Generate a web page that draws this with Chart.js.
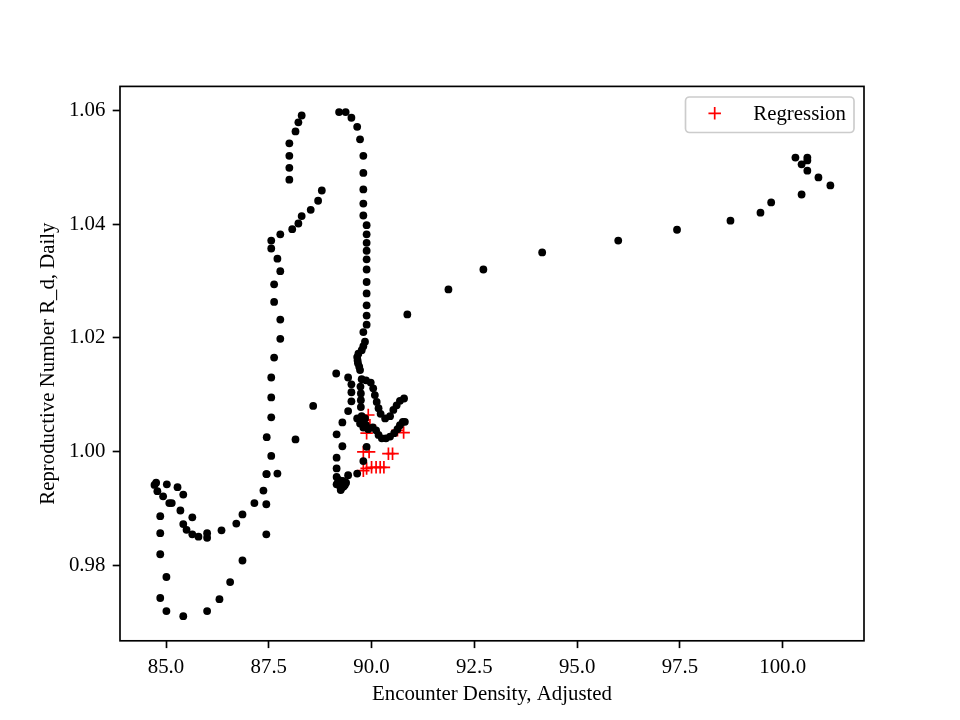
<!DOCTYPE html>
<html>
<head>
<meta charset="utf-8">
<script src="https://cdn.jsdelivr.net/npm/chart.js@4.4.1/dist/chart.umd.min.js"></script>
<style>
html,body{margin:0;padding:0;background:#ffffff;}
#wrap{width:960px;height:720px;}
</style>
</head>
<body>
<div id="wrap"><canvas id="c" width="960" height="720"></canvas></div>
<script>
// ---------------- data ----------------
const xTicks = [85.0, 87.5, 90.0, 92.5, 95.0, 97.5, 100.0];
const yTicks = [0.98, 1.00, 1.02, 1.04, 1.06];

const upperLeftArm = [
  [88.30,1.0591],[88.22,1.0579],[88.15,1.0563],[88.00,1.0542],[88.00,1.0520],[88.00,1.0499],[88.00,1.0478]
];
const descendingArm = [
  [88.79,1.0459],[88.70,1.0441],[88.52,1.0425],[88.30,1.0414],[88.22,1.0401],[88.07,1.0391],[87.78,1.0382],
  [87.56,1.0371],[87.56,1.0357],[87.71,1.0339],[87.78,1.0317],[87.63,1.0294],[87.63,1.0263],[87.78,1.0232],
  [87.78,1.0198],[87.63,1.0165],[87.56,1.0130],[87.56,1.0095],[87.56,1.0060],[87.45,1.0025],[87.56,0.9992],
  [87.45,0.9960],[87.71,0.9961],[88.15,1.0021],[88.58,1.0080]
];
const lowerLoop = [
  [84.72,0.9941],[84.76,0.9945],[84.79,0.9930],[84.93,0.9921],[85.02,0.9942],[85.28,0.9937],[85.42,0.9924],
  [85.08,0.9909],[85.14,0.9909],[85.35,0.9896],[85.64,0.9884],[85.42,0.9872],[85.50,0.9862],[85.64,0.9854],
  [85.79,0.9850],[86.00,0.9856],[86.00,0.9848],[86.35,0.9861],[86.71,0.9873],[86.86,0.9889],[87.15,0.9909],
  [87.37,0.9931],[87.44,0.9960],[87.44,0.9907],[87.44,0.9854]
];
const lowerDip = [
  [84.86,0.9886],[84.86,0.9856],[84.86,0.9819],[85.01,0.9779],[84.86,0.9742],[85.01,0.9719],[85.42,0.9710],
  [86.00,0.9719],[86.30,0.9740],[86.56,0.9770],[86.86,0.9808]
];
const risingColumn = [
  [89.21,1.0597],[89.37,1.0597],[89.51,1.0587],[89.65,1.0571],[89.72,1.0549],[89.80,1.0520],[89.80,1.0490],
  [89.80,1.0461],[89.80,1.0436],[89.80,1.0415],[89.88,1.0398],[89.88,1.0382],[89.88,1.0367],[89.88,1.0353],
  [89.88,1.0338],[89.88,1.0320],[89.88,1.0298],[89.88,1.0278],[89.88,1.0257],[89.88,1.0239],[89.88,1.0223],
  [89.80,1.0210],[89.84,1.0193],[89.80,1.0185],[89.76,1.0178],[89.68,1.0172],[89.65,1.0166],[89.66,1.0160],
  [89.67,1.0155],[89.70,1.0149],[89.72,1.0143]
];
const clusterLeft = [
  [89.14,1.0137],[89.43,1.0130],[89.51,1.0118],[89.51,1.0104],[89.51,1.0088],[89.43,1.0071],[89.29,1.0051],
  [89.15,1.0030],[89.29,1.0009],[89.15,0.9989],[89.15,0.9970],[89.15,0.9955],[89.43,0.9958],[89.65,0.9961],
  [89.18,0.9945],[89.22,0.9940],[89.28,0.9937],[89.32,0.9938],[89.20,0.9950],[89.38,0.9945],[89.26,0.9935],
  [89.15,0.9942],[89.35,0.9941],[89.25,0.9932],[89.30,0.9948],[89.80,0.9983],[89.88,1.0008]
];
const clusterBands = [
  [89.76,1.0127],[89.865,1.0125],[89.98,1.0121],[90.04,1.0111],[90.08,1.0099],[90.125,1.0087],[90.17,1.0076],
  [90.22,1.0066],[90.33,1.0058],[90.45,1.0062],[90.53,1.0073],[90.61,1.0081],[90.69,1.0089],[90.79,1.0093],
  [89.73,1.0114],[89.74,1.0102],[89.74,1.0090],[89.74,1.0078],[89.76,1.0062],[89.80,1.0052],[89.865,1.0046],
  [89.92,1.0039],[90.03,1.0042],[90.11,1.0037],[90.17,1.0029],[90.25,1.0023],[90.35,1.0023],[90.45,1.0026],
  [90.55,1.0032],[90.63,1.0039],[90.69,1.0046],[90.76,1.0052],[90.81,1.0052],
  [89.65,1.0058],[89.72,1.0049],[89.84,1.0058],[89.80,1.0042]
];
const rightArm = [
  [90.87,1.0241],[91.87,1.0285],[92.72,1.0320],[94.15,1.0350],[96.00,1.0371],[97.43,1.0390],[98.73,1.0406],
  [99.46,1.0420],[99.72,1.0438],[100.46,1.0452],[100.31,1.0517],[100.60,1.0517],[100.60,1.0512],[100.46,1.0505],
  [100.60,1.0494],[100.87,1.0482],[101.16,1.0468]
];

const regressionX = [89.80, 89.94, 90.41, 90.51, 90.78, 90.63, 89.92, 89.96, 89.88, 89.80, 89.88, 90.00, 90.11, 90.21, 90.30];
const regressionY = [0.9999, 0.9999, 0.9996, 0.9996, 1.0033, 1.0037, 1.0064, 1.0046, 1.0032, 0.9966, 0.9970, 0.9972, 0.9972, 0.9972, 0.9972];

const xAxisTitle = 'Encounter Density, Adjusted';
const yAxisTitle = 'Reproductive Number R_d, Daily';
const regressionLabel = 'Regression';

// ---------------- chart ----------------
const FONT = '"Liberation Serif", "Times New Roman", Times, serif';
const FS = 20.83;
Chart.defaults.font.family = FONT;
Chart.defaults.font.size = FS;
Chart.defaults.color = '#000000';

const observed = [].concat(upperLeftArm, descendingArm, lowerLoop, lowerDip, risingColumn, clusterLeft, clusterBands, rightArm)
  .map(p => ({x: p[0], y: p[1]}));
const regression = regressionX.map((x, i) => ({x: x, y: regressionY[i]}));

const framePlugin = {
  id: 'frame',
  afterDraw(chart) {
    const {ctx, chartArea: a} = chart;
    ctx.save();
    ctx.strokeStyle = '#000000';
    ctx.lineWidth = 1.67;
    ctx.strokeRect(a.left, a.top, a.right - a.left, a.bottom - a.top);
    ctx.restore();
  }
};

const legendPlugin = {
  id: 'boxLegend',
  afterDraw(chart) {
    const ctx = chart.ctx;
    const ds = chart.data.datasets[1];
    const x0 = 685.5, y0 = 97, w = 168.5, h = 35.5, r = 4;
    ctx.save();
    ctx.beginPath();
    ctx.roundRect(x0, y0, w, h, r);
    ctx.fillStyle = 'rgba(255,255,255,0.8)';
    ctx.fill();
    ctx.strokeStyle = '#cccccc';
    ctx.lineWidth = 1.67;
    ctx.stroke();
    const cx = 714.7, cy = 113.3, rr = ds.pointRadius;
    ctx.beginPath();
    ctx.moveTo(cx - rr, cy); ctx.lineTo(cx + rr, cy);
    ctx.moveTo(cx, cy - rr); ctx.lineTo(cx, cy + rr);
    ctx.strokeStyle = ds.pointBorderColor;
    ctx.lineWidth = ds.pointBorderWidth;
    ctx.stroke();
    ctx.fillStyle = '#000000';
    ctx.font = FS + 'px ' + FONT;
    ctx.textBaseline = 'alphabetic';
    ctx.textAlign = 'left';
    ctx.fillText(ds.label, 753.3, 120.3);
    ctx.restore();
  }
};

new Chart(document.getElementById('c').getContext('2d'), {
  type: 'scatter',
  data: {
    datasets: [
      {
        label: 'Observed',
        data: observed,
        pointRadius: 3.9,
        pointHoverRadius: 3.9,
        pointBackgroundColor: '#000000',
        pointBorderColor: '#000000',
        pointBorderWidth: 0
      },
      {
        label: regressionLabel,
        data: regression,
        pointStyle: 'cross',
        pointRadius: 6.25,
        pointHoverRadius: 6.25,
        pointBorderColor: '#ff0000',
        pointBackgroundColor: '#ff0000',
        pointBorderWidth: 1.7
      }
    ]
  },
  options: {
    responsive: false,
    animation: false,
    devicePixelRatio: 1,
    events: [],
    layout: {padding: {left: 0, right: 96, top: 86.4, bottom: 0}},
    plugins: {legend: {display: false}, tooltip: {enabled: false}},
    scales: {
      x: {
        type: 'linear',
        bounds: 'data',
        min: 83.881,
        max: 101.978,
        afterBuildTicks: s => { s.ticks = xTicks.map(v => ({value: v})); },
        afterFit: s => { s.height = 79.2; },
        ticks: {
          callback: v => Number(v).toFixed(1),
          color: '#000000',
          font: {family: FONT, size: FS},
          padding: 7,
          maxRotation: 0,
          autoSkip: false
        },
        grid: {drawOnChartArea: false, drawTicks: true, tickLength: 7.3, tickWidth: 1.67, tickColor: '#000000'},
        border: {display: false},
        title: {display: true, text: xAxisTitle, color: '#000000', font: {family: FONT, size: FS}, padding: {top: 0, bottom: 12.5}}
      },
      y: {
        type: 'linear',
        bounds: 'data',
        min: 0.96667,
        max: 1.06422,
        afterBuildTicks: s => { s.ticks = yTicks.map(v => ({value: v})); },
        afterFit: s => { s.width = 120; },
        ticks: {
          callback: v => Number(v).toFixed(2),
          color: '#000000',
          font: {family: FONT, size: FS},
          padding: 7.3,
          autoSkip: false
        },
        grid: {drawOnChartArea: false, drawTicks: true, tickLength: 7.3, tickWidth: 1.67, tickColor: '#000000'},
        border: {display: false},
        title: {display: true, text: yAxisTitle, color: '#000000', font: {family: FONT, size: FS}, padding: {top: 36.5, bottom: 0}}
      }
    }
  },
  plugins: [framePlugin, legendPlugin]
});
</script>
</body>
</html>
